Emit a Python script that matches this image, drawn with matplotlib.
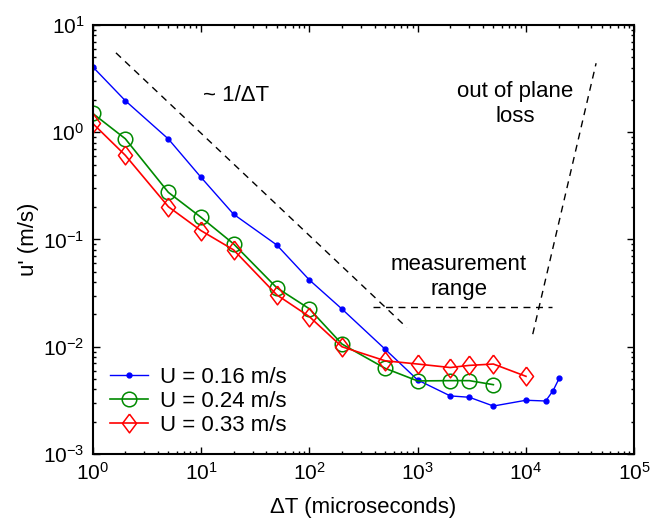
import numpy as np
import matplotlib
matplotlib.use('Agg')
import matplotlib.pyplot as plt
from matplotlib.ticker import LogLocator, NullFormatter

plt.rcParams['font.family'] = ['Liberation Sans', 'DejaVu Sans']
plt.rcParams['mathtext.default'] = 'regular'
plt.rcParams['font.size'] = 16

# data
dt_016 = [1, 2, 5, 10, 20, 50, 100, 200, 500, 1000, 2000, 3000, 5000, 10000, 15200, 17800, 20300]
u_016 = [4.08, 1.97, 0.865, 0.38, 0.172, 0.089, 0.042, 0.0225, 0.0095, 0.0049,
         0.00348, 0.00338, 0.0028, 0.00317, 0.00312, 0.0039, 0.0051]

dt_024 = [1, 2, 5, 10, 20, 50, 100, 200, 500, 1000, 2000, 3000, 5000]
u_024 = [1.50, 0.87, 0.275, 0.161, 0.091, 0.0355, 0.0226, 0.0106, 0.0063, 0.0048,
         0.00483, 0.00483, 0.00443]

dt_033 = [1, 2, 5, 10, 20, 50, 100, 200, 500, 1000, 2000, 3000, 5000, 10000]
u_033 = [1.21, 0.61, 0.202, 0.121, 0.080, 0.0305, 0.0191, 0.0100, 0.0074, 0.0069,
         0.0064, 0.0067, 0.0069, 0.0053]

labels = ['U = 0.16 m/s', 'U = 0.24 m/s', 'U = 0.33 m/s']

# guide lines
slope_x = [1.64, 794]
slope_y = [5.5, 0.0151]
range_x = [390, 17300]
range_y = [0.0233, 0.0233]
loss_x = [11550, 44400]
loss_y = [0.0131, 4.4]

fig = plt.figure(figsize=(6.61, 5.24), dpi=100)
ax = fig.add_axes([0.1402, 0.1336, 0.8194, 0.8187])

diamond = [(0, 1), (0.75, 0), (0, -1), (-0.75, 0), (0, 1)]

ax.loglog(dt_016, u_016, '-', color='#0000ff', lw=1, marker='o', ms=3.5, label=labels[0])
ax.loglog(dt_024, u_024, '-', color='#008a00', lw=1.2, marker='o', ms=10.5,
          mfc='none', mew=1.1, label=labels[1])
ax.loglog(dt_033, u_033, '-', color='#ff0000', lw=1.2, marker=diamond, ms=13.5,
          mfc='none', mew=1.1, label=labels[2])

ax.plot(slope_x, slope_y, '--', color='k', lw=1, dashes=(5, 4))
ax.plot(range_x, range_y, '--', color='k', lw=1, dashes=(5, 4))
ax.plot(loss_x, loss_y, '--', color='k', lw=1, dashes=(5, 4))

ax.text(21, 2.18, '~ 1/ΔT', ha='center', va='center')
ax.text(7900, 1.83, 'out of plane\nloss', ha='center', va='center', linespacing=1.3)
ax.text(2410, 0.0447, 'measurement\nrange', ha='center', va='center', linespacing=1.3)

ax.set_xlim(1, 1e5)
ax.set_ylim(1e-3, 10)
ax.xaxis.set_major_locator(LogLocator(base=10, numticks=10))
ax.yaxis.set_major_locator(LogLocator(base=10, numticks=10))
ax.xaxis.set_minor_locator(LogLocator(base=10, subs=np.arange(2, 10), numticks=20))
ax.yaxis.set_minor_locator(LogLocator(base=10, subs=np.arange(2, 10), numticks=20))
ax.xaxis.set_minor_formatter(NullFormatter())
ax.yaxis.set_minor_formatter(NullFormatter())
ax.tick_params(which='both', direction='in', top=True, right=True, width=1)
ax.tick_params(which='major', length=5, pad=6, labelsize=15)
ax.tick_params(which='minor', length=2.5)
for s in ax.spines.values():
    s.set_linewidth(1.5)

ax.set_xlabel('ΔT (microseconds)', labelpad=9)
ax.set_ylabel("u' (m/s)")
ax.yaxis.set_label_coords(-0.1, 0.5)

ax.legend(loc='lower left', frameon=False, handlelength=1.7, handletextpad=0.55,
          labelspacing=0.15, borderaxespad=0.5, borderpad=0.3)

fig.savefig('out.png', dpi=100)
